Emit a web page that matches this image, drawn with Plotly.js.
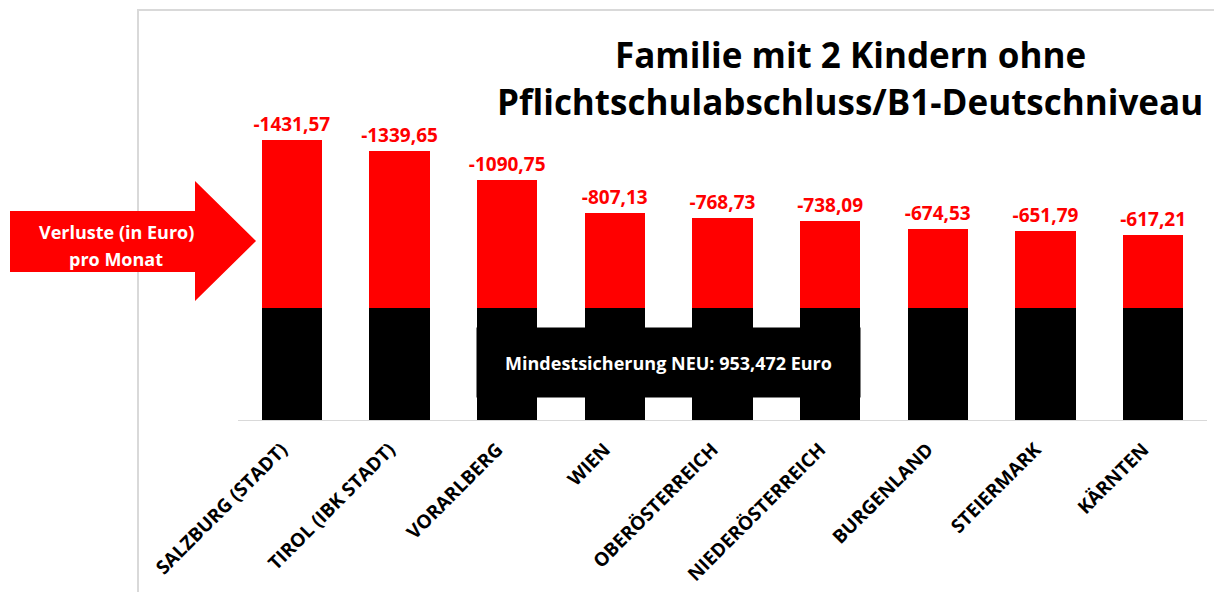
<!DOCTYPE html>
<html><head><meta charset="utf-8">
<script src="https://cdn.plot.ly/plotly-3.0.1.min.js"></script>
<style>html,body{margin:0;padding:0;background:#fff;}#chart{width:1214px;height:592px;}</style>
</head><body><div id="chart"></div>
<script>
const categories = ["SALZBURG (STADT)","TIROL (IBK STADT)","VORARLBERG","WIEN","OBERÖSTERREICH","NIEDERÖSTERREICH","BURGENLAND","STEIERMARK","KÄRNTEN"];
const baseValues = [953.472,953.472,953.472,953.472,953.472,953.472,953.472,953.472,953.472];
const lossValues = [1431.57,1339.65,1090.75,807.13,768.73,738.09,674.53,651.79,617.21];
const lossLabels = lossValues.map(v => "-" + v.toFixed(2).replace(".", ","));

const W = 1214, H = 592;
const L = 238, R = 7, T = 10, B = 172;
const pw = W - L - R, ph = H - T - B;
const px = x => (x - L) / pw;
const py = y => (H - B - y) / ph;
const FONT = "Open Sans";

const arrowPts = [[10,211],[195,211],[195,181],[256,241],[195,301],[195,272],[10,272]];
const arrowPath = "M" + arrowPts.map(p => px(p[0]) + "," + py(p[1])).join(" L") + " Z";

const traces = [
  {type:"bar", x:categories, y:baseValues, marker:{color:"#000000", line:{width:0}}, width:0.56, hoverinfo:"skip", showlegend:false},
  {type:"bar", x:categories, y:lossValues, marker:{color:"#ff0000", line:{width:0}}, width:0.56, hoverinfo:"skip", showlegend:false,
   text:lossLabels, textposition:"outside", cliponaxis:false, constraintext:"none",
   textfont:{family:FONT, size:19, color:"#ff0000", weight:"bold"}}
];

function ann(x, y, text, size, color, extra) {
  return Object.assign({xref:"paper", yref:"paper", x:px(x), y:py(y), xanchor:"center", yanchor:"middle",
    showarrow:false, text:"<b>" + text + "</b>", font:{family:FONT, size:size, color:color}}, extra || {});
}

const layout = {
  width:W, height:H,
  margin:{l:L, r:R, t:T, b:B},
  barmode:"stack",
  paper_bgcolor:"#ffffff", plot_bgcolor:"#ffffff",
  font:{family:FONT},
  xaxis:{type:"category", range:[-0.5,8.5], tickangle:-45, showline:true, linecolor:"#d9d9d9", linewidth:1,
    ticks:"", showgrid:false, zeroline:false, ticklabelstandoff:10, ticklabelshift:-10,
    tickfont:{family:FONT, size:19, color:"#000000", weight:"bold"}},
  yaxis:{range:[0,3490], visible:false, showgrid:false, zeroline:false},
  shapes:[
    {type:"path", xref:"paper", yref:"paper", path:"M"+px(138)+","+py(600)+" L"+px(138)+","+py(10)+" L"+px(1220)+","+py(10),
     line:{color:"#d9d9d9", width:2}, layer:"below"},
    {type:"path", xref:"paper", yref:"paper", path:arrowPath, fillcolor:"#ff0000", line:{width:0}, layer:"above"}
  ],
  annotations:[
    ann(850, 55, "Familie mit 2 Kindern ohne", 35, "#000000"),
    ann(850, 102, "Pflichtschulabschluss/B1-Deutschniveau", 35, "#000000"),
    {xref:"paper", yref:"paper", x:px(668.5), y:py(362.5), xanchor:"center", yanchor:"middle", showarrow:false,
     width:383, height:69, bgcolor:"#000000", borderpad:0,
     text:"<b>Mindestsicherung NEU: 953,472 Euro</b>", font:{family:FONT, size:18, color:"#ffffff"}},
    ann(116, 232, "Verluste (in Euro)", 18, "#ffffff"),
    ann(116, 259, "pro Monat", 18, "#ffffff")
  ]
};
Plotly.newPlot("chart", traces, layout, {displayModeBar:false, staticPlot:true});
</script></body></html>
